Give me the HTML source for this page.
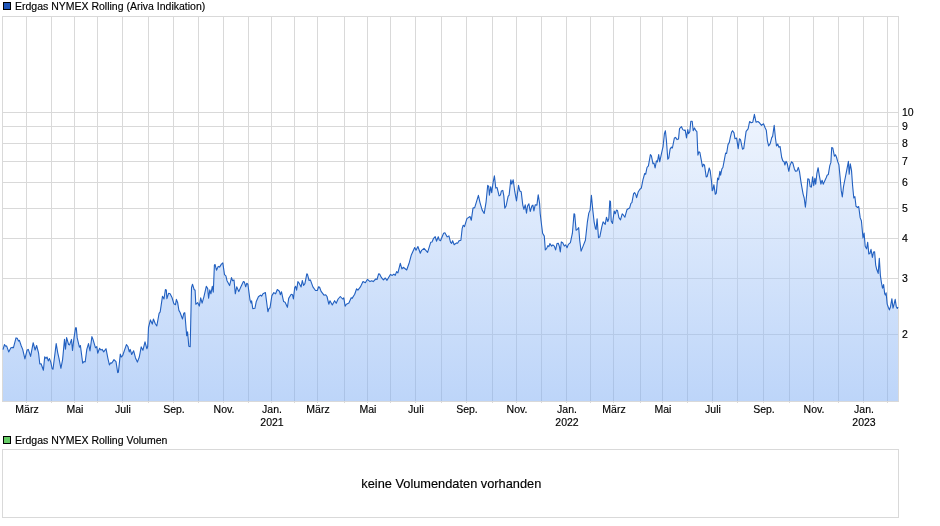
<!DOCTYPE html>
<html><head><meta charset="utf-8"><title>Chart</title>
<style>
html,body{margin:0;padding:0;background:#fff;}
body{width:940px;height:526px;overflow:hidden;font-family:"Liberation Sans",sans-serif;}
svg{display:block;will-change:transform;}
text{font-family:"Liberation Sans",sans-serif;font-size:10.5px;fill:#000;stroke:#000;stroke-width:0.15px;}
</style></head><body>
<svg width="940" height="526" viewBox="0 0 940 526">
<defs><linearGradient id="g" x1="0" y1="16" x2="0" y2="401" gradientUnits="userSpaceOnUse" >
<stop offset="0" stop-color="#ffffff" stop-opacity="0.5"/><stop offset="1" stop-color="#7babf3" stop-opacity="0.5"/></linearGradient></defs>
<rect x="0" y="0" width="940" height="526" fill="#fff"/>
<g stroke="#d9d9d9" stroke-width="1" fill="none" shape-rendering="crispEdges">
<path d="M26.5,16.5V403"/><path d="M51.5,16.5V403"/><path d="M74.5,16.5V403"/><path d="M97.5,16.5V403"/><path d="M122.5,16.5V403"/><path d="M148.5,16.5V403"/><path d="M173.5,16.5V403"/><path d="M198.5,16.5V403"/><path d="M223.5,16.5V403"/><path d="M248.5,16.5V403"/><path d="M271.5,16.5V403"/><path d="M294.5,16.5V403"/><path d="M317.5,16.5V403"/><path d="M344.5,16.5V403"/><path d="M367.5,16.5V403"/><path d="M390.5,16.5V403"/><path d="M415.5,16.5V403"/><path d="M441.5,16.5V403"/><path d="M466.5,16.5V403"/><path d="M492.5,16.5V403"/><path d="M516.5,16.5V403"/><path d="M541.5,16.5V403"/><path d="M566.5,16.5V403"/><path d="M590.5,16.5V403"/><path d="M613.5,16.5V403"/><path d="M640.5,16.5V403"/><path d="M662.5,16.5V403"/><path d="M687.5,16.5V403"/><path d="M712.5,16.5V403"/><path d="M737.5,16.5V403"/><path d="M763.5,16.5V403"/><path d="M789.5,16.5V403"/><path d="M813.5,16.5V403"/><path d="M838.5,16.5V403"/><path d="M863.5,16.5V403"/><path d="M887.5,16.5V403"/><path d="M2.5,112.5H898.5"/><path d="M2.5,126.5H898.5"/><path d="M2.5,143.5H898.5"/><path d="M2.5,161.5H898.5"/><path d="M2.5,182.5H898.5"/><path d="M2.5,208.5H898.5"/><path d="M2.5,238.5H898.5"/><path d="M2.5,278.5H898.5"/><path d="M2.5,334.5H898.5"/>
<rect x="2.5" y="16.5" width="896" height="385"/>
</g>
<path d="M3,401 L3,349.6 L4.5,344.5 L5.7,346.2 L6.6,345.9 L8.7,351.9 L10.9,347.8 L12.1,347.4 L13.4,347.8 L16.0,337.9 L17.2,338.3 L18.5,341.1 L19.4,340.4 L21.1,345.5 L22.7,349.4 L24.9,358.9 L27.1,350.0 L28.3,349.4 L30.6,356.4 L33.2,342.7 L35.1,350.0 L36.6,345.5 L38.6,353.2 L39.8,364.0 L41.1,363.7 L43.4,370.2 L44.7,356.8 L46.0,358.3 L47.0,357.0 L48.3,360.9 L49.5,358.6 L50.8,362.1 L52.1,368.5 L53.0,369.2 L56.2,343.6 L57.7,352.6 L59.0,358.3 L60.9,368.3 L62.6,359.6 L64.5,339.4 L65.5,349.1 L66.6,337.6 L68.6,344.5 L69.6,344.9 L71.5,339.4 L72.5,350.4 L74.0,337.9 L75.6,327.7 L76.3,327.9 L77.2,337.9 L79.4,347.1 L80.4,345.5 L82.7,363.2 L84.0,361.5 L85.2,361.9 L86.8,349.4 L88.5,343.6 L90.0,351.0 L91.9,336.6 L92.9,339.1 L95.5,347.8 L96.8,346.6 L97.7,353.2 L99.6,348.3 L100.9,350.0 L102.1,349.4 L103.7,351.9 L106.0,348.7 L107.9,358.3 L109.4,364.9 L110.8,362.8 L111.7,363.2 L114.0,359.6 L116.0,361.7 L117.7,372.6 L118.4,372.2 L120.3,354.1 L121.3,357.0 L122.6,355.7 L126.4,344.6 L127.9,346.5 L129.3,351.9 L130.2,349.4 L131.7,354.5 L133.6,350.7 L135.5,357.9 L137.4,362.1 L139.3,357.0 L141.2,346.9 L142.9,350.3 L145.0,341.8 L146.9,348.8 L147.7,346.5 L148.5,327.5 L150.4,319.9 L152.3,324.1 L153.4,319.0 L155.3,323.7 L156.8,326.0 L159.1,313.3 L160.2,311.9 L162.5,296.2 L164.0,299.0 L165.4,289.5 L166.3,289.9 L166.9,298.6 L168.6,293.3 L170.1,293.7 L172.0,297.5 L173.9,303.8 L175.5,304.7 L176.4,299.4 L177.7,302.8 L178.9,310.4 L180.0,312.3 L182.5,319.0 L183.8,313.3 L184.8,312.7 L186.7,335.8 L187.6,331.8 L188.8,346.3 L190.2,346.8 L191.5,287.7 L192.5,284.2 L194.1,289.5 L195.1,290.3 L195.8,304.3 L197.6,302.6 L199.3,306.1 L200.7,297.9 L202.1,303.1 L203.9,296.8 L206.3,286.3 L207.7,288.6 L208.6,298.2 L209.8,289.8 L210.9,293.8 L212.3,286.3 L213.3,292.1 L214.4,265.0 L215.1,264.6 L216.5,270.2 L218.2,266.4 L219.6,267.1 L221.4,264.1 L222.8,262.9 L224.5,274.6 L225.9,275.8 L227.0,280.7 L229.6,285.6 L231.5,277.6 L232.6,280.7 L234.0,279.9 L235.3,293.8 L236.7,286.8 L238.8,291.6 L240.9,286.8 L243.4,281.6 L244.4,282.1 L245.7,286.8 L246.7,283.3 L247.9,284.2 L250.0,300.0 L251.1,303.1 L251.6,300.8 L252.8,308.7 L254.9,308.3 L256.3,301.4 L258.4,296.8 L260.5,295.1 L261.6,296.1 L263.0,293.8 L265.4,292.6 L267.9,311.8 L268.9,308.7 L270.0,307.8 L271.9,295.6 L273.8,292.6 L275.6,293.8 L277.3,289.5 L279.4,291.2 L280.3,294.7 L281.5,291.8 L283.6,301.6 L285.1,302.2 L287.4,307.3 L288.7,298.4 L291.2,294.3 L292.5,294.8 L293.4,299.0 L294.7,287.6 L295.6,286.3 L296.6,290.1 L297.9,281.6 L298.9,282.8 L301.1,286.9 L302.3,280.5 L303.6,285.4 L304.9,283.7 L306.8,273.9 L307.4,274.1 L309.1,280.5 L310.4,279.9 L312.9,286.9 L315.5,290.5 L317.3,290.5 L318.6,286.7 L319.6,287.2 L321.1,291.4 L324.0,295.2 L325.7,294.8 L327.0,296.5 L328.8,304.2 L330.0,300.7 L332.3,305.0 L334.6,300.7 L336.2,303.3 L338.1,299.0 L340.3,296.5 L342.6,299.0 L343.8,297.8 L345.1,306.1 L346.4,304.2 L348.9,302.9 L351.2,297.8 L352.1,298.4 L354.7,294.3 L356.6,288.8 L357.9,290.1 L360.4,286.9 L363.0,281.6 L365.3,282.8 L367.5,279.3 L370.0,281.6 L371.7,280.8 L373.2,281.6 L375.7,279.0 L377.0,279.5 L378.6,273.9 L379.6,274.1 L381.5,277.7 L383.4,279.9 L385.3,278.0 L387.0,280.3 L390.4,274.4 L392.3,275.4 L393.9,274.1 L395.2,275.4 L396.6,271.6 L397.9,272.9 L400.3,263.3 L401.9,268.9 L403.3,267.3 L406.7,270.0 L409.4,262.2 L411.2,255.3 L414.7,247.6 L416.0,250.3 L417.9,246.5 L420.3,253.2 L421.6,250.3 L424.0,248.3 L427.6,252.3 L430.7,242.3 L432.0,242.0 L433.6,238.3 L435.2,236.7 L436.5,241.2 L438.3,236.7 L439.2,239.9 L440.5,240.7 L443.6,233.2 L444.9,232.7 L447.2,236.9 L448.9,235.9 L450.6,242.3 L451.6,243.3 L452.6,240.7 L454.2,244.7 L456.5,242.9 L457.6,243.3 L458.9,240.9 L460.9,240.3 L462.2,228.3 L463.2,225.2 L464.5,226.6 L466.9,218.6 L470.0,216.5 L471.3,220.2 L473.0,208.1 L474.7,207.6 L478.4,195.4 L480.0,202.6 L482.2,210.1 L484.2,213.5 L486.1,201.8 L487.7,185.4 L488.7,186.4 L489.4,195.1 L490.7,186.7 L491.7,192.6 L493.1,182.5 L494.4,175.9 L495.8,188.1 L497.1,187.6 L499.1,195.9 L500.4,195.1 L501.4,190.9 L502.8,190.4 L503.8,195.9 L504.8,208.1 L506.1,206.0 L508.1,196.4 L509.1,195.1 L510.8,179.7 L511.8,184.2 L513.2,179.7 L514.8,191.7 L516.5,200.9 L518.5,185.4 L519.8,190.9 L521.2,191.7 L522.8,205.1 L523.9,209.3 L525.2,204.8 L526.5,213.1 L527.5,206.0 L528.9,203.8 L530.2,211.5 L531.9,206.0 L532.9,205.1 L533.9,211.0 L535.2,204.8 L536.9,205.1 L538.2,194.7 L539.6,203.4 L540.2,213.5 L541.6,225.2 L542.6,233.2 L544.3,236.1 L545.3,249.9 L546.6,248.6 L547.9,245.6 L548.9,246.6 L549.9,243.6 L551.6,246.1 L552.9,244.9 L554.3,246.1 L555.6,249.9 L557.0,243.6 L558.3,243.2 L559.3,246.1 L560.3,251.9 L561.3,241.9 L562.7,242.7 L564.3,246.1 L565.7,244.9 L567.0,247.8 L568.4,244.4 L570.4,242.7 L572.4,233.2 L574.0,213.8 L574.7,214.3 L576.1,230.2 L577.4,229.4 L578.7,227.7 L579.7,240.2 L581.1,251.1 L583.1,246.1 L585.4,240.2 L587.4,221.8 L588.8,213.1 L590.1,210.1 L591.4,195.4 L592.8,210.1 L594.1,221.8 L595.5,228.9 L596.1,229.4 L597.1,218.8 L598.5,237.7 L599.8,236.9 L601.8,226.9 L603.1,221.8 L605.2,224.3 L606.5,217.2 L607.8,221.5 L608.8,218.8 L609.8,200.9 L610.5,201.4 L611.2,221.0 L612.5,223.5 L614.2,211.0 L615.2,213.8 L616.5,210.1 L617.5,210.5 L618.9,217.7 L620.5,219.8 L622.2,213.8 L623.5,215.2 L624.9,217.2 L626.9,209.8 L628.2,208.8 L629.6,208.1 L630.9,203.4 L631.9,202.6 L633.6,193.7 L634.6,192.6 L635.6,194.2 L636.6,197.6 L638.3,191.7 L639.9,189.2 L641.3,188.1 L643.0,179.7 L644.7,173.5 L645.7,174.2 L647.0,167.5 L648.4,165.8 L650.4,154.6 L651.4,155.8 L653.0,163.8 L654.0,163.0 L655.1,168.0 L656.4,160.8 L657.4,161.8 L658.7,154.6 L659.7,161.8 L661.4,153.8 L663.1,146.3 L664.4,133.7 L665.4,130.7 L666.4,140.4 L667.8,159.2 L668.8,158.0 L670.1,149.1 L671.4,147.1 L672.4,148.0 L674.4,137.9 L675.5,137.4 L677.1,139.6 L678.5,139.1 L679.5,128.7 L681.5,126.7 L682.8,129.6 L684.1,130.4 L685.2,130.1 L686.5,137.9 L687.8,129.6 L688.5,133.7 L689.8,131.7 L690.8,121.2 L692.2,121.2 L693.2,130.7 L694.5,127.9 L695.9,130.7 L696.9,131.7 L697.9,155.1 L698.9,151.8 L699.9,152.5 L701.2,159.7 L702.5,166.8 L703.5,164.2 L704.5,165.2 L706.2,176.9 L707.2,176.4 L709.2,168.0 L710.2,170.9 L711.6,182.2 L712.2,190.6 L712.9,189.8 L713.9,184.7 L715.3,194.3 L716.3,193.1 L717.6,178.1 L718.6,179.7 L719.9,171.4 L720.6,175.2 L721.9,168.9 L722.9,167.5 L724.3,160.2 L725.6,153.0 L726.6,153.5 L728.0,144.6 L729.3,142.4 L730.3,137.4 L731.6,132.1 L732.6,130.7 L734.0,132.9 L735.0,138.8 L736.6,138.1 L738.2,148.6 L739.4,138.7 L740.5,139.7 L742.5,149.2 L743.7,148.6 L746.1,131.3 L748.1,128.8 L749.6,121.5 L751.2,122.8 L752.8,122.2 L754.4,114.3 L756.0,122.2 L757.9,121.5 L759.5,122.8 L761.5,125.4 L763.5,123.8 L765.1,127.8 L766.3,130.2 L767.4,140.6 L768.6,146.0 L770.2,143.6 L771.8,137.3 L772.6,136.7 L774.2,125.4 L775.4,137.7 L776.5,146.0 L777.7,144.0 L778.9,147.2 L780.1,146.6 L781.7,157.5 L782.9,161.0 L784.1,161.8 L784.9,165.0 L786.0,161.4 L787.2,163.4 L788.8,171.3 L790.0,165.4 L791.6,161.8 L792.8,163.0 L794.4,168.9 L795.5,171.3 L797.1,170.9 L798.3,167.4 L799.5,171.7 L801.1,182.8 L803.1,194.1 L804.2,198.0 L805.4,207.3 L806.6,195.1 L807.8,178.8 L809.0,179.2 L810.2,186.7 L811.4,187.1 L812.6,176.8 L813.7,185.6 L814.9,178.2 L815.7,184.2 L816.9,173.3 L818.1,167.7 L819.3,175.3 L820.9,184.2 L822.1,180.2 L823.2,184.2 L824.8,180.8 L826.4,177.2 L827.1,175.2 L828.3,174.6 L829.8,165.7 L830.9,162.4 L831.7,147.6 L832.8,148.0 L834.4,156.2 L835.5,154.8 L836.6,157.5 L837.8,161.9 L838.9,164.7 L840.1,177.1 L841.2,190.4 L842.3,197.0 L843.5,186.6 L845.0,179.0 L846.5,171.4 L847.7,165.1 L848.4,161.3 L849.2,174.2 L850.3,163.8 L851.5,170.4 L852.6,185.6 L853.8,198.0 L854.9,196.7 L856.0,206.2 L857.6,207.5 L858.7,206.5 L860.2,217.9 L861.4,220.8 L863.0,238.0 L864.1,233.1 L865.2,246.3 L866.6,248.8 L867.7,242.2 L868.8,253.9 L869.9,253.5 L871.0,249.4 L872.4,257.5 L873.5,252.1 L874.6,251.7 L875.7,265.1 L876.7,269.3 L878.2,273.4 L879.3,258.4 L880.4,275.6 L881.4,282.5 L882.5,288.2 L883.6,284.6 L884.7,293.7 L885.4,295.1 L886.1,292.8 L887.2,304.1 L888.3,307.2 L889.4,309.9 L890.5,306.7 L891.9,298.7 L893.0,308.1 L894.1,304.1 L895.2,299.4 L896.3,306.7 L897.3,308.5 L898,307.0 L898,401 Z" fill="url(#g)"/>
<polyline points="3,349.6 4.5,344.5 5.7,346.2 6.6,345.9 8.7,351.9 10.9,347.8 12.1,347.4 13.4,347.8 16.0,337.9 17.2,338.3 18.5,341.1 19.4,340.4 21.1,345.5 22.7,349.4 24.9,358.9 27.1,350.0 28.3,349.4 30.6,356.4 33.2,342.7 35.1,350.0 36.6,345.5 38.6,353.2 39.8,364.0 41.1,363.7 43.4,370.2 44.7,356.8 46.0,358.3 47.0,357.0 48.3,360.9 49.5,358.6 50.8,362.1 52.1,368.5 53.0,369.2 56.2,343.6 57.7,352.6 59.0,358.3 60.9,368.3 62.6,359.6 64.5,339.4 65.5,349.1 66.6,337.6 68.6,344.5 69.6,344.9 71.5,339.4 72.5,350.4 74.0,337.9 75.6,327.7 76.3,327.9 77.2,337.9 79.4,347.1 80.4,345.5 82.7,363.2 84.0,361.5 85.2,361.9 86.8,349.4 88.5,343.6 90.0,351.0 91.9,336.6 92.9,339.1 95.5,347.8 96.8,346.6 97.7,353.2 99.6,348.3 100.9,350.0 102.1,349.4 103.7,351.9 106.0,348.7 107.9,358.3 109.4,364.9 110.8,362.8 111.7,363.2 114.0,359.6 116.0,361.7 117.7,372.6 118.4,372.2 120.3,354.1 121.3,357.0 122.6,355.7 126.4,344.6 127.9,346.5 129.3,351.9 130.2,349.4 131.7,354.5 133.6,350.7 135.5,357.9 137.4,362.1 139.3,357.0 141.2,346.9 142.9,350.3 145.0,341.8 146.9,348.8 147.7,346.5 148.5,327.5 150.4,319.9 152.3,324.1 153.4,319.0 155.3,323.7 156.8,326.0 159.1,313.3 160.2,311.9 162.5,296.2 164.0,299.0 165.4,289.5 166.3,289.9 166.9,298.6 168.6,293.3 170.1,293.7 172.0,297.5 173.9,303.8 175.5,304.7 176.4,299.4 177.7,302.8 178.9,310.4 180.0,312.3 182.5,319.0 183.8,313.3 184.8,312.7 186.7,335.8 187.6,331.8 188.8,346.3 190.2,346.8 191.5,287.7 192.5,284.2 194.1,289.5 195.1,290.3 195.8,304.3 197.6,302.6 199.3,306.1 200.7,297.9 202.1,303.1 203.9,296.8 206.3,286.3 207.7,288.6 208.6,298.2 209.8,289.8 210.9,293.8 212.3,286.3 213.3,292.1 214.4,265.0 215.1,264.6 216.5,270.2 218.2,266.4 219.6,267.1 221.4,264.1 222.8,262.9 224.5,274.6 225.9,275.8 227.0,280.7 229.6,285.6 231.5,277.6 232.6,280.7 234.0,279.9 235.3,293.8 236.7,286.8 238.8,291.6 240.9,286.8 243.4,281.6 244.4,282.1 245.7,286.8 246.7,283.3 247.9,284.2 250.0,300.0 251.1,303.1 251.6,300.8 252.8,308.7 254.9,308.3 256.3,301.4 258.4,296.8 260.5,295.1 261.6,296.1 263.0,293.8 265.4,292.6 267.9,311.8 268.9,308.7 270.0,307.8 271.9,295.6 273.8,292.6 275.6,293.8 277.3,289.5 279.4,291.2 280.3,294.7 281.5,291.8 283.6,301.6 285.1,302.2 287.4,307.3 288.7,298.4 291.2,294.3 292.5,294.8 293.4,299.0 294.7,287.6 295.6,286.3 296.6,290.1 297.9,281.6 298.9,282.8 301.1,286.9 302.3,280.5 303.6,285.4 304.9,283.7 306.8,273.9 307.4,274.1 309.1,280.5 310.4,279.9 312.9,286.9 315.5,290.5 317.3,290.5 318.6,286.7 319.6,287.2 321.1,291.4 324.0,295.2 325.7,294.8 327.0,296.5 328.8,304.2 330.0,300.7 332.3,305.0 334.6,300.7 336.2,303.3 338.1,299.0 340.3,296.5 342.6,299.0 343.8,297.8 345.1,306.1 346.4,304.2 348.9,302.9 351.2,297.8 352.1,298.4 354.7,294.3 356.6,288.8 357.9,290.1 360.4,286.9 363.0,281.6 365.3,282.8 367.5,279.3 370.0,281.6 371.7,280.8 373.2,281.6 375.7,279.0 377.0,279.5 378.6,273.9 379.6,274.1 381.5,277.7 383.4,279.9 385.3,278.0 387.0,280.3 390.4,274.4 392.3,275.4 393.9,274.1 395.2,275.4 396.6,271.6 397.9,272.9 400.3,263.3 401.9,268.9 403.3,267.3 406.7,270.0 409.4,262.2 411.2,255.3 414.7,247.6 416.0,250.3 417.9,246.5 420.3,253.2 421.6,250.3 424.0,248.3 427.6,252.3 430.7,242.3 432.0,242.0 433.6,238.3 435.2,236.7 436.5,241.2 438.3,236.7 439.2,239.9 440.5,240.7 443.6,233.2 444.9,232.7 447.2,236.9 448.9,235.9 450.6,242.3 451.6,243.3 452.6,240.7 454.2,244.7 456.5,242.9 457.6,243.3 458.9,240.9 460.9,240.3 462.2,228.3 463.2,225.2 464.5,226.6 466.9,218.6 470.0,216.5 471.3,220.2 473.0,208.1 474.7,207.6 478.4,195.4 480.0,202.6 482.2,210.1 484.2,213.5 486.1,201.8 487.7,185.4 488.7,186.4 489.4,195.1 490.7,186.7 491.7,192.6 493.1,182.5 494.4,175.9 495.8,188.1 497.1,187.6 499.1,195.9 500.4,195.1 501.4,190.9 502.8,190.4 503.8,195.9 504.8,208.1 506.1,206.0 508.1,196.4 509.1,195.1 510.8,179.7 511.8,184.2 513.2,179.7 514.8,191.7 516.5,200.9 518.5,185.4 519.8,190.9 521.2,191.7 522.8,205.1 523.9,209.3 525.2,204.8 526.5,213.1 527.5,206.0 528.9,203.8 530.2,211.5 531.9,206.0 532.9,205.1 533.9,211.0 535.2,204.8 536.9,205.1 538.2,194.7 539.6,203.4 540.2,213.5 541.6,225.2 542.6,233.2 544.3,236.1 545.3,249.9 546.6,248.6 547.9,245.6 548.9,246.6 549.9,243.6 551.6,246.1 552.9,244.9 554.3,246.1 555.6,249.9 557.0,243.6 558.3,243.2 559.3,246.1 560.3,251.9 561.3,241.9 562.7,242.7 564.3,246.1 565.7,244.9 567.0,247.8 568.4,244.4 570.4,242.7 572.4,233.2 574.0,213.8 574.7,214.3 576.1,230.2 577.4,229.4 578.7,227.7 579.7,240.2 581.1,251.1 583.1,246.1 585.4,240.2 587.4,221.8 588.8,213.1 590.1,210.1 591.4,195.4 592.8,210.1 594.1,221.8 595.5,228.9 596.1,229.4 597.1,218.8 598.5,237.7 599.8,236.9 601.8,226.9 603.1,221.8 605.2,224.3 606.5,217.2 607.8,221.5 608.8,218.8 609.8,200.9 610.5,201.4 611.2,221.0 612.5,223.5 614.2,211.0 615.2,213.8 616.5,210.1 617.5,210.5 618.9,217.7 620.5,219.8 622.2,213.8 623.5,215.2 624.9,217.2 626.9,209.8 628.2,208.8 629.6,208.1 630.9,203.4 631.9,202.6 633.6,193.7 634.6,192.6 635.6,194.2 636.6,197.6 638.3,191.7 639.9,189.2 641.3,188.1 643.0,179.7 644.7,173.5 645.7,174.2 647.0,167.5 648.4,165.8 650.4,154.6 651.4,155.8 653.0,163.8 654.0,163.0 655.1,168.0 656.4,160.8 657.4,161.8 658.7,154.6 659.7,161.8 661.4,153.8 663.1,146.3 664.4,133.7 665.4,130.7 666.4,140.4 667.8,159.2 668.8,158.0 670.1,149.1 671.4,147.1 672.4,148.0 674.4,137.9 675.5,137.4 677.1,139.6 678.5,139.1 679.5,128.7 681.5,126.7 682.8,129.6 684.1,130.4 685.2,130.1 686.5,137.9 687.8,129.6 688.5,133.7 689.8,131.7 690.8,121.2 692.2,121.2 693.2,130.7 694.5,127.9 695.9,130.7 696.9,131.7 697.9,155.1 698.9,151.8 699.9,152.5 701.2,159.7 702.5,166.8 703.5,164.2 704.5,165.2 706.2,176.9 707.2,176.4 709.2,168.0 710.2,170.9 711.6,182.2 712.2,190.6 712.9,189.8 713.9,184.7 715.3,194.3 716.3,193.1 717.6,178.1 718.6,179.7 719.9,171.4 720.6,175.2 721.9,168.9 722.9,167.5 724.3,160.2 725.6,153.0 726.6,153.5 728.0,144.6 729.3,142.4 730.3,137.4 731.6,132.1 732.6,130.7 734.0,132.9 735.0,138.8 736.6,138.1 738.2,148.6 739.4,138.7 740.5,139.7 742.5,149.2 743.7,148.6 746.1,131.3 748.1,128.8 749.6,121.5 751.2,122.8 752.8,122.2 754.4,114.3 756.0,122.2 757.9,121.5 759.5,122.8 761.5,125.4 763.5,123.8 765.1,127.8 766.3,130.2 767.4,140.6 768.6,146.0 770.2,143.6 771.8,137.3 772.6,136.7 774.2,125.4 775.4,137.7 776.5,146.0 777.7,144.0 778.9,147.2 780.1,146.6 781.7,157.5 782.9,161.0 784.1,161.8 784.9,165.0 786.0,161.4 787.2,163.4 788.8,171.3 790.0,165.4 791.6,161.8 792.8,163.0 794.4,168.9 795.5,171.3 797.1,170.9 798.3,167.4 799.5,171.7 801.1,182.8 803.1,194.1 804.2,198.0 805.4,207.3 806.6,195.1 807.8,178.8 809.0,179.2 810.2,186.7 811.4,187.1 812.6,176.8 813.7,185.6 814.9,178.2 815.7,184.2 816.9,173.3 818.1,167.7 819.3,175.3 820.9,184.2 822.1,180.2 823.2,184.2 824.8,180.8 826.4,177.2 827.1,175.2 828.3,174.6 829.8,165.7 830.9,162.4 831.7,147.6 832.8,148.0 834.4,156.2 835.5,154.8 836.6,157.5 837.8,161.9 838.9,164.7 840.1,177.1 841.2,190.4 842.3,197.0 843.5,186.6 845.0,179.0 846.5,171.4 847.7,165.1 848.4,161.3 849.2,174.2 850.3,163.8 851.5,170.4 852.6,185.6 853.8,198.0 854.9,196.7 856.0,206.2 857.6,207.5 858.7,206.5 860.2,217.9 861.4,220.8 863.0,238.0 864.1,233.1 865.2,246.3 866.6,248.8 867.7,242.2 868.8,253.9 869.9,253.5 871.0,249.4 872.4,257.5 873.5,252.1 874.6,251.7 875.7,265.1 876.7,269.3 878.2,273.4 879.3,258.4 880.4,275.6 881.4,282.5 882.5,288.2 883.6,284.6 884.7,293.7 885.4,295.1 886.1,292.8 887.2,304.1 888.3,307.2 889.4,309.9 890.5,306.7 891.9,298.7 893.0,308.1 894.1,304.1 895.2,299.4 896.3,306.7 897.3,308.5 898,307.0" fill="none" stroke="#2260c0" stroke-width="1.1" stroke-linejoin="round"/>
<rect x="3.5" y="2.5" width="7" height="7" fill="#1f55b8" stroke="#000" stroke-width="1" shape-rendering="crispEdges"/>
<text x="15" y="10">Erdgas NYMEX Rolling (Ariva Indikation)</text>
<text x="27" y="413" text-anchor="middle">März</text><text x="75" y="413" text-anchor="middle">Mai</text><text x="123" y="413" text-anchor="middle">Juli</text><text x="174" y="413" text-anchor="middle">Sep.</text><text x="224" y="413" text-anchor="middle">Nov.</text><text x="272" y="413" text-anchor="middle">Jan.</text><text x="318" y="413" text-anchor="middle">März</text><text x="368" y="413" text-anchor="middle">Mai</text><text x="416" y="413" text-anchor="middle">Juli</text><text x="467" y="413" text-anchor="middle">Sep.</text><text x="517" y="413" text-anchor="middle">Nov.</text><text x="567" y="413" text-anchor="middle">Jan.</text><text x="614" y="413" text-anchor="middle">März</text><text x="663" y="413" text-anchor="middle">Mai</text><text x="713" y="413" text-anchor="middle">Juli</text><text x="764" y="413" text-anchor="middle">Sep.</text><text x="814" y="413" text-anchor="middle">Nov.</text><text x="864" y="413" text-anchor="middle">Jan.</text><text x="272" y="426" text-anchor="middle">2021</text><text x="567" y="426" text-anchor="middle">2022</text><text x="864" y="426" text-anchor="middle">2023</text><text x="902" y="116">10</text><text x="902" y="130">9</text><text x="902" y="147">8</text><text x="902" y="165">7</text><text x="902" y="186">6</text><text x="902" y="212">5</text><text x="902" y="242">4</text><text x="902" y="282">3</text><text x="902" y="338">2</text>
<rect x="3.5" y="436.5" width="7" height="7" fill="#66cc66" stroke="#000" stroke-width="1" shape-rendering="crispEdges"/>
<text x="15" y="444">Erdgas NYMEX Rolling Volumen</text>
<rect x="2.5" y="449.5" width="896" height="68" fill="#fff" stroke="#d9d9d9" shape-rendering="crispEdges"/>
<text x="451.3" y="488" text-anchor="middle" style="font-size:12.8px">keine Volumendaten vorhanden</text>
</svg>
</body></html>
